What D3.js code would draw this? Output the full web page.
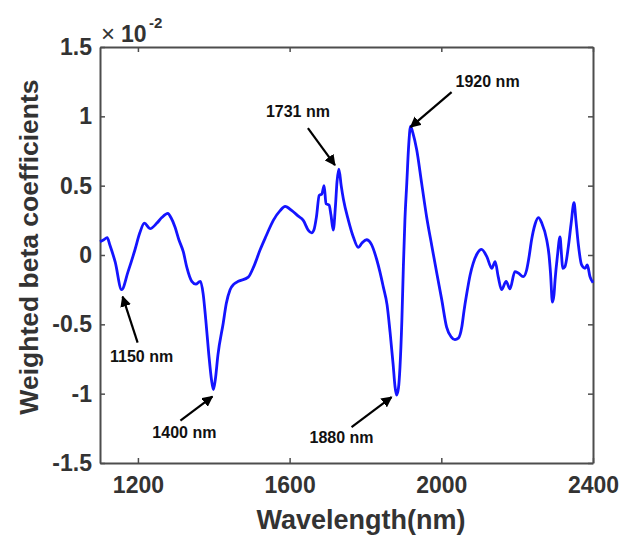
<!DOCTYPE html>
<html>
<head>
<meta charset="utf-8">
<script src="https://cdn.jsdelivr.net/npm/d3@7"></script>
<style>
  body { margin: 0; background: #fff; }
  svg { display: block; }
  text { font-family: "Liberation Sans", Arial, sans-serif; font-weight: bold; }
</style>
</head>
<body>
<svg id="chart" width="622" height="543"></svg>
<script>
// Data (values in units of 1e-2)
const wavelengths = [1100,1109,1119,1126,1140,1157,1174,1192,1205,1217,1232,1250,1263,1279,1287,1298,1308,1320,1329,1342,1353,1361,1365,1372,1379,1387,1394,1399,1404,1411,1425,1433,1443,1453,1465,1491,1506,1522,1538,1557,1575,1588,1606,1623,1636,1649,1658,1664,1671,1678,1685,1691,1696,1704,1709,1715,1721,1725,1730,1736,1742,1755,1768,1781,1791,1803,1815,1830,1838,1847,1857,1865,1873,1878,1882,1887,1891,1896,1900,1904,1909,1914,1919,1925,1935,1948,1961,1975,1988,2001,2014,2026,2036,2045,2054,2060,2067,2076,2084,2094,2106,2120,2133,2142,2150,2159,2171,2181,2194,2203,2216,2225,2231,2238,2247,2256,2265,2278,2284,2288,2293,2297,2300,2306,2313,2317,2320,2326,2335,2342,2350,2355,2361,2370,2379,2385,2392,2400];
const betaValues = [0.096,0.108,0.125,0.072,-0.05,-0.25,-0.12,0.036,0.16,0.23,0.19,0.23,0.27,0.30,0.27,0.20,0.11,0.02,-0.09,-0.19,-0.21,-0.195,-0.19,-0.28,-0.47,-0.72,-0.90,-0.97,-0.90,-0.72,-0.49,-0.35,-0.25,-0.21,-0.19,-0.16,-0.08,0.036,0.137,0.25,0.32,0.35,0.32,0.28,0.25,0.18,0.16,0.18,0.28,0.43,0.44,0.50,0.37,0.36,0.29,0.18,0.36,0.53,0.62,0.50,0.40,0.25,0.13,0.055,0.087,0.11,0.08,-0.036,-0.12,-0.23,-0.36,-0.56,-0.79,-0.95,-1.01,-0.96,-0.81,-0.47,-0.08,0.25,0.52,0.79,0.93,0.88,0.76,0.52,0.28,0.065,-0.13,-0.32,-0.52,-0.59,-0.61,-0.60,-0.52,-0.40,-0.28,-0.144,-0.06,0.007,0.04,-0.012,-0.096,-0.048,-0.156,-0.25,-0.19,-0.245,-0.12,-0.13,-0.156,-0.108,-0.02,0.108,0.22,0.27,0.23,0.108,0,-0.13,-0.34,-0.29,-0.18,-0.012,0.13,0,-0.096,-0.084,0.06,0.22,0.377,0.25,0.084,-0.072,-0.096,-0.072,-0.156,-0.20];
const xTicks = [1200, 1600, 2000, 2400];
const yTicks = [-1.5, -1, -0.5, 0, 0.5, 1, 1.5];
const yTickLabels = ["-1.5", "-1", "-0.5", "0", "0.5", "1", "1.5"];
// Annotations: label, wavelength of pointed feature, value
const annoLabels = ["1150 nm", "1400 nm", "1731 nm", "1880 nm", "1920 nm"];
const annoWave = [1157, 1399, 1730, 1882, 1919];
const annoValue = [-0.25, -0.97, 0.62, -1.01, 0.93];

const margin = {left: 100, top: 47, right: 29, bottom: 80};
const W = 622, H = 543;
const svg = d3.select("#chart");
const x = d3.scaleLinear().domain([1100, 2400]).range([margin.left, W - margin.right]);
const y = d3.scaleLinear().domain([-1.5, 1.5]).range([H - margin.bottom, margin.top]);

const axisColor = "#4d4d4d";
const labelColor = "#333333";

// Axes
const gx = svg.append("g").attr("transform", `translate(0,${y(-1.5)})`)
  .call(d3.axisBottom(x).tickValues(xTicks).tickSizeInner(-5).tickSizeOuter(0).tickPadding(14).tickFormat(d3.format("d")));
const gxTop = svg.append("g").attr("transform", `translate(0,${y(1.5)})`)
  .call(d3.axisTop(x).tickValues(xTicks).tickSizeInner(-5).tickSizeOuter(0).tickFormat(""));
const gy = svg.append("g").attr("transform", `translate(${x(1100)},0)`)
  .call(d3.axisLeft(y).tickValues(yTicks).tickSizeInner(-5).tickSizeOuter(0).tickPadding(8)
    .tickFormat((d, i) => yTickLabels[i]));
const gyR = svg.append("g").attr("transform", `translate(${x(2400)},0)`)
  .call(d3.axisRight(y).tickValues(yTicks).tickSizeInner(-5).tickSizeOuter(0).tickFormat(""));

[gx, gxTop, gy, gyR].forEach(g => {
  g.select(".domain").attr("stroke", axisColor).attr("stroke-width", 2);
  g.selectAll(".tick line").attr("stroke", axisColor).attr("stroke-width", 1.5);
  g.selectAll(".tick text").attr("fill", labelColor).style("font-size", "23px")
    .style("font-family", '"Liberation Sans", Arial, sans-serif').style("font-weight", "bold");
});

// Line
const line = d3.line()
  .x((d, i) => x(wavelengths[i]))
  .y(d => y(d))
  .curve(d3.curveMonotoneX);
svg.append("path")
  .datum(betaValues)
  .attr("fill", "none")
  .attr("stroke", "#1414ff")
  .attr("stroke-width", 2.8)
  .attr("stroke-linejoin", "round")
  .attr("d", line);

// Axis titles
svg.append("text")
  .attr("x", 361).attr("y", 529)
  .attr("text-anchor", "middle").attr("fill", labelColor)
  .style("font-size", "27px").text("Wavelength(nm)");
svg.append("text")
  .attr("transform", `translate(38,247) rotate(-90)`)
  .attr("text-anchor", "middle").attr("fill", labelColor)
  .style("font-size", "26.5px").text("Weighted beta coefficients");

// Exponent
svg.append("text").attr("x", 101).attr("y", 42).attr("fill", labelColor)
  .style("font-size", "24px").style("font-weight", "normal").text("\u00d7");
svg.append("text").attr("x", 121).attr("y", 42).attr("fill", labelColor)
  .style("font-size", "23px").text("10");
svg.append("text").attr("x", 149).attr("y", 28).attr("fill", labelColor)
  .style("font-size", "15px").text("-2");

// Annotations
const defs = svg.append("defs");
defs.append("marker").attr("id", "arrow").attr("viewBox", "0 0 10 10")
  .attr("refX", 9).attr("refY", 5).attr("markerWidth", 5).attr("markerHeight", 5)
  .attr("orient", "auto").attr("markerUnits", "strokeWidth")
  .append("path").attr("d", "M0,0 L10,5 L0,10 z").attr("fill", "#000");

// label positions / arrow starts relative to the pointed feature (pixels)
const annoTextDx = [20, -29, -41, -55, 77];
const annoTextDy = [72, 48, -52, 48, -39];
const annoStartDx = [16, -33, -31, -45, 41];
const annoStartDy = [53, 31, -41, 32, -34];
const annoEndDx = [1, -1, -4, -5, 0];
const annoEndDy = [7, 7, -4, 2, 1];

annoLabels.forEach((lab, i) => {
  const px = x(annoWave[i]), py = y(annoValue[i]);
  svg.append("line")
    .attr("x1", px + annoStartDx[i]).attr("y1", py + annoStartDy[i])
    .attr("x2", px + annoEndDx[i]).attr("y2", py + annoEndDy[i])
    .attr("stroke", "#000").attr("stroke-width", 2.2)
    .attr("marker-end", "url(#arrow)");
  svg.append("text")
    .attr("x", px + annoTextDx[i]).attr("y", py + annoTextDy[i])
    .attr("text-anchor", "middle").attr("fill", "#111")
    .style("font-size", "16px").text(lab);
});
</script>
</body>
</html>
